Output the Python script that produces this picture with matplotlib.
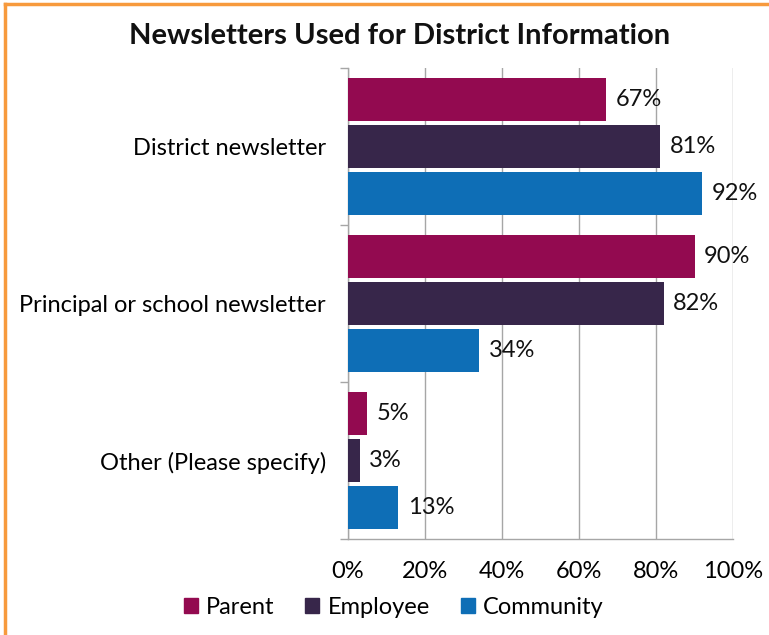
import numpy as np
import matplotlib.pyplot as plt
from matplotlib.lines import Line2D

categories = ["District newsletter", "Principal or school newsletter", "Other (Please specify)"]
series = ["Parent", "Employee", "Community"]
parent = [67, 90, 5]
employee = [81, 82, 3]
community = [92, 34, 13]
colors = ["#930A50", "#37264A", "#0E6EB6"]

plt.rcParams["font.family"] = ["Lato", "DejaVu Sans"]

fig = plt.figure(figsize=(7.69, 6.35), dpi=100)
ax = fig.add_axes([0.4525, 0.1512, 0.5007, 0.7417])

y = np.arange(len(categories))
offsets = [-0.3, 0.0, 0.3]
for vals, off, col, name in zip([parent, employee, community], offsets, colors, series):
    bars = ax.barh(y + off, vals, height=0.27, color=col, label=name, zorder=3)
    for b, v in zip(bars, vals):
        ax.text(v + 2.5, b.get_y() + b.get_height() / 2, f"{v}%",
                va="center", ha="left", fontsize=17, color="#111111", zorder=4)

ax.set_xlim(0, 100)
ax.set_ylim(2.5, -0.5)
ax.set_xticks(np.arange(0, 101, 20))
ax.set_xticklabels([f"{t}%" for t in range(0, 101, 20)], fontsize=17)
ax.xaxis.grid(True, color="#A6A6A6", linewidth=1.0, zorder=0)
ax.tick_params(axis="x", length=0, pad=16)

# category labels centred on each group, separator ticks between groups
ax.set_yticks(y)
ax.set_yticklabels(categories, fontsize=17)
ax.tick_params(axis="y", length=0, pad=16)
ax.set_yticks([-0.5, 0.5, 1.5, 2.5], minor=True)
ax.tick_params(axis="y", which="minor", length=6, color="#A6A6A6", width=1.0)

for s in ["top", "right"]:
    ax.spines[s].set_visible(False)
for s in ["left", "bottom"]:
    ax.spines[s].set_color("#A6A6A6")
    ax.spines[s].set_linewidth(1.0)

fig.text(0.519, 0.944, "Newsletters Used for District Information",
         ha="center", va="center", fontsize=21, fontweight="bold", color="#111111")

handles = [plt.Rectangle((0, 0), 1, 1, color=c) for c in colors]
fig.legend(handles, series, loc="center", bbox_to_anchor=(0.512, 0.044), ncol=3,
           frameon=False, fontsize=17, handlelength=0.6, handleheight=0.6,
           handletextpad=0.35, columnspacing=1.3)

# orange frame along the top and left edges
fig.add_artist(Line2D([0.007, 1.0], [0.993, 0.993], color="#F79A3D", linewidth=2.5,
                      transform=fig.transFigure))
fig.add_artist(Line2D([0.007, 0.007], [0.0, 0.993], color="#F79A3D", linewidth=2.5,
                      transform=fig.transFigure))

fig.savefig("out.png", dpi=100)
